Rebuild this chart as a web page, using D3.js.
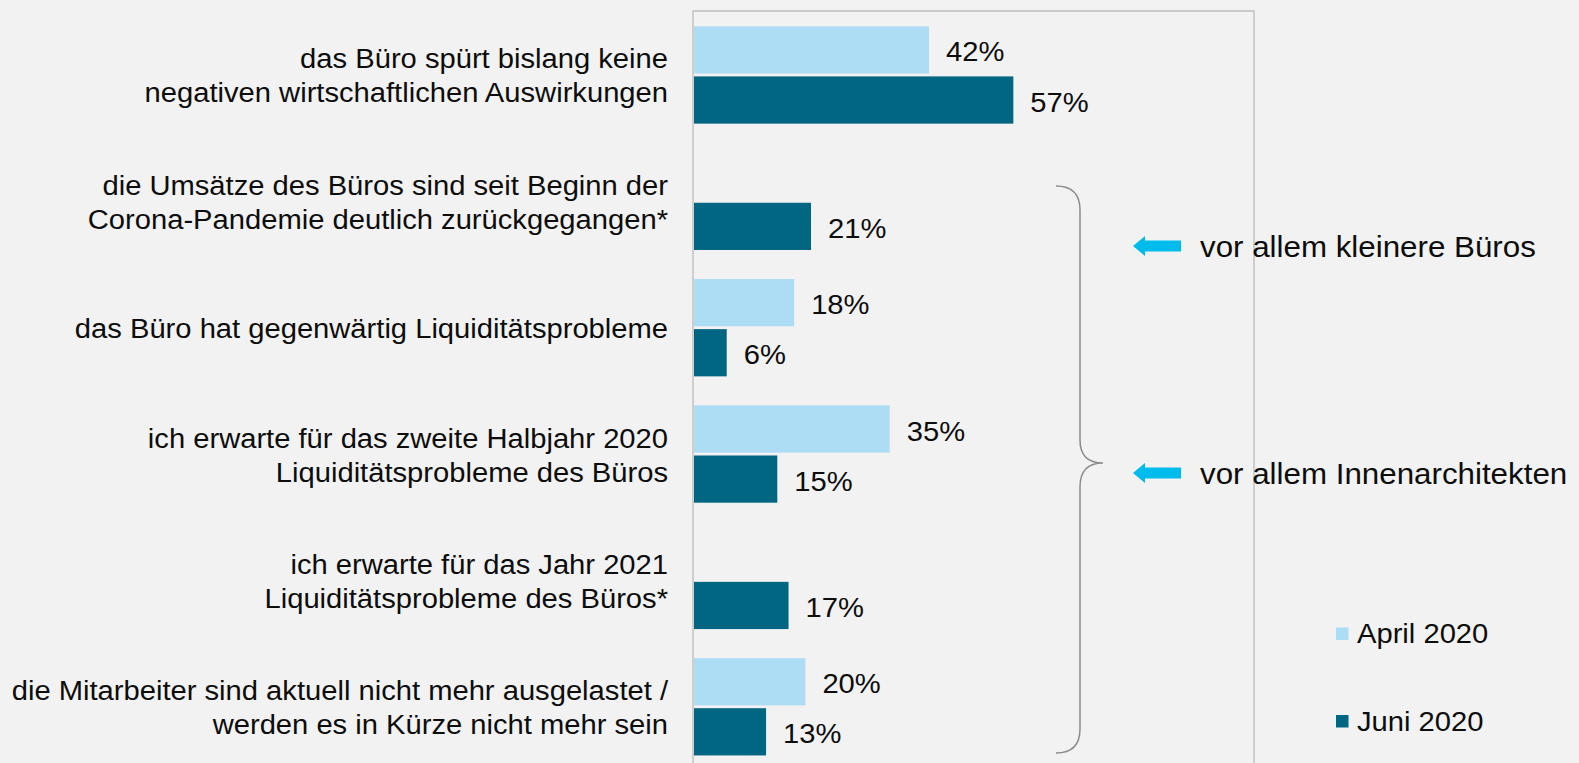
<!DOCTYPE html>
<html>
<head>
<meta charset="utf-8">
<script src="https://cdn.jsdelivr.net/npm/d3@7"></script>
<style>
  html, body { margin: 0; padding: 0; background: #f2f2f2; }
  svg { display: block; }
  text { font-family: "Liberation Sans", Arial, sans-serif; fill: #0d0d0d; }
</style>
</head>
<body>
<script>
// ---- data ----
const categories = [
  ["das Büro spürt bislang keine", "negativen wirtschaftlichen Auswirkungen"],
  ["die Umsätze des Büros sind seit Beginn der", "Corona-Pandemie deutlich zurückgegangen*"],
  ["das Büro hat gegenwärtig Liquiditätsprobleme"],
  ["ich erwarte für das zweite Halbjahr 2020", "Liquiditätsprobleme des Büros"],
  ["ich erwarte für das Jahr 2021", "Liquiditätsprobleme des Büros*"],
  ["die Mitarbeiter sind aktuell nicht mehr ausgelastet /", "werden es in Kürze nicht mehr sein"]
];
const seriesNames = ["April 2020", "Juni 2020"];
const april2020 = [42, null, 18, 35, null, 20];
const juni2020 = [57, 21, 6, 15, 17, 13];
const seriesColors = ["#addcf5", "#006682"];
const annotations = ["vor allem kleinere Büros", "vor allem Innenarchitekten"];

// ---- layout ----
const W = 1579, H = 763;
const SX = 1.08; // horizontal text stretch of the original rendering
const svg = d3.select("body").append("svg").attr("width", W).attr("height", H);
svg.append("rect").attr("width", W).attr("height", H).attr("fill", "#f2f2f2");

const x = d3.scaleLinear().domain([0, 100]).range([693, 1255]);
const y0 = d3.scaleBand().domain(d3.range(categories.length))
  .range([11.8, 11.8 + 6 * 126.36]).paddingInner(0.23).paddingOuter(0.115);
const y1 = d3.scaleBand().domain([0, 1]).range([0, y0.bandwidth()]).paddingInner(0.057);

function stretchedText(g, tx, ty, str, size, anchor) {
  return g.append("text")
    .attr("transform", `translate(${tx},${ty}) scale(${SX},1)`)
    .attr("text-anchor", anchor)
    .style("font-size", size + "px")
    .text(str);
}

// frame (axis + top/right border)
const frame = svg.append("g").attr("stroke", "#bfbfbf").attr("stroke-width", 1.4).attr("fill", "none");
frame.append("path").attr("d", `M${x(0)},${H} V11 H${x(100) - 1} V${H}`);

// bars
const series = [april2020, juni2020];
const barsG = svg.append("g");
series.forEach((vals, si) => {
  vals.forEach((v, i) => {
    if (v === null) return;
    const yTop = y0(i) + y1(si);
    barsG.append("rect")
      .attr("x", x(0) + 1)
      .attr("y", yTop)
      .attr("width", x(v) - x(0) - 1)
      .attr("height", y1.bandwidth())
      .attr("fill", seriesColors[si]);
    stretchedText(barsG, x(v) + 17, yTop + y1.bandwidth() / 2 + 11.5, v + "%", 27, "start");
  });
});

// category labels
const labG = svg.append("g");
categories.forEach((lines, i) => {
  const c = y0(i) + y0.bandwidth() / 2;
  const base = c + 10.5 - (lines.length - 1) * 17;
  lines.forEach((ln, k) => {
    stretchedText(labG, 668, base + k * 34, ln, 27, "end");
  });
});

// brace
svg.append("path")
  .attr("d", "M1056,186 Q1080,186 1080,210 L1080,440 Q1080,463 1103,463 Q1080,463 1080,487 L1080,729 Q1080,753 1056,753")
  .attr("fill", "none").attr("stroke", "#8c8c8c").attr("stroke-width", 1.5);

// arrows + annotations
const annY = [246, 473];
annY.forEach((cy, i) => {
  const tip = 1133, back = 1145, end = 1181;
  svg.append("path")
    .attr("d", `M${tip},${cy} L${back},${cy - 10} L${back},${cy - 5.5} L${end},${cy - 5.5} L${end},${cy + 5.5} L${back},${cy + 5.5} L${back},${cy + 10} Z`)
    .attr("fill", "#00bcec");
  stretchedText(svg, 1200, cy + 11, annotations[i], 29, "start");
});

// legend
const legY = [627.5, 715];
seriesNames.forEach((name, i) => {
  svg.append("rect").attr("x", 1336).attr("y", legY[i]).attr("width", 12.5).attr("height", 12.5)
    .attr("fill", seriesColors[i]);
  stretchedText(svg, 1357, legY[i] + 15.5, name, 27, "start");
});
</script>
</body>
</html>
